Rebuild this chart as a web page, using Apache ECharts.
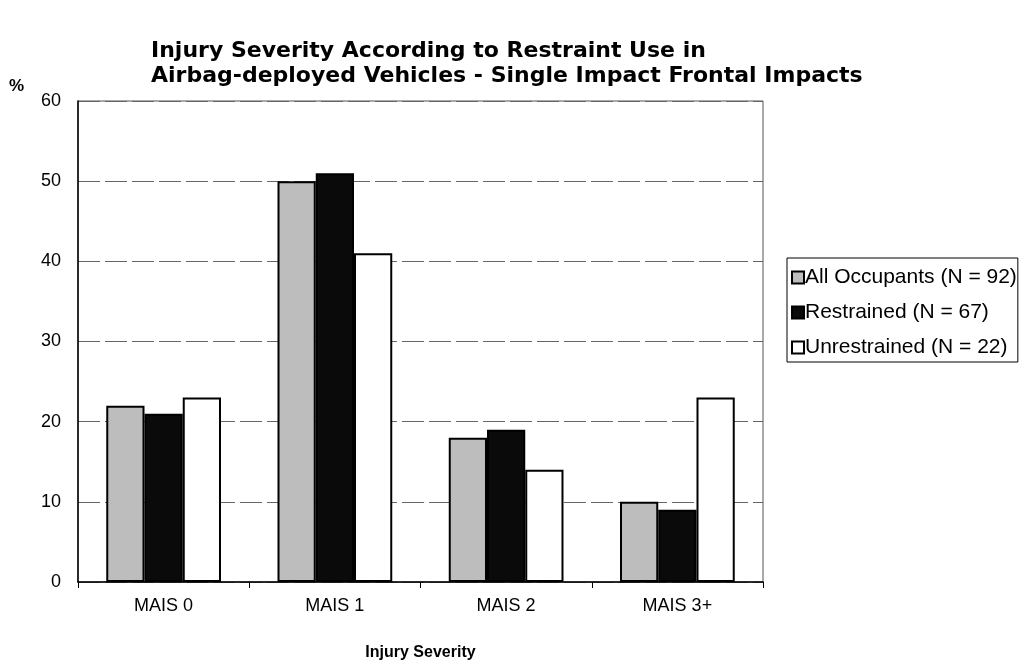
<!DOCTYPE html>
<html><head><meta charset="utf-8">
<script src="https://cdn.jsdelivr.net/npm/echarts@6/dist/echarts.min.js"></script>
<style>html,body{margin:0;padding:0;background:#fff}#c{width:1029px;height:666px}</style>
</head><body><div id="c"></div>
<script>
var categories = ['MAIS 0', 'MAIS 1', 'MAIS 2', 'MAIS 3+'];
var seriesNames = ['All Occupants (N = 92)', 'Restrained (N = 67)', 'Unrestrained (N = 22)'];
var allOccupants = [22, 50, 18, 10];
var restrained = [21, 51, 19, 9];
var unrestrained = [23, 41, 14, 23];
var yTicks = [0, 10, 20, 30, 40, 50, 60];

var font = 'Liberation Sans, Arial, sans-serif';
var wide = 'DejaVu Sans, sans-serif';
var chart = echarts.init(document.getElementById('c'));
function bar(name, data, color) {
  return {
    name: name, type: 'bar', data: data, barGap: '0%', barCategoryGap: '33%',
    itemStyle: { color: color, borderColor: '#000', borderWidth: 2 }
  };
}
chart.setOption({
  animation: false,
  backgroundColor: '#fff',
  title: {
    text: 'Injury Severity According to Restraint Use in\nAirbag-deployed Vehicles - Single Impact Frontal Impacts',
    left: 146, top: 34,
    textStyle: { fontFamily: wide, fontSize: 22, fontWeight: 'bold', color: '#000', lineHeight: 25 }
  },
  legend: {
    orient: 'vertical', left: 787, top: 258, width: 231,
    padding: [9, 1, 4, 4], itemGap: 14,
    itemWidth: 12, itemHeight: 12, borderColor: '#000', borderWidth: 1,
    textStyle: { fontFamily: font, fontSize: 21, color: '#000', padding: [0, 0, 0, -4] },
    data: seriesNames.map(function (n) { return { name: n, icon: 'rect' }; })
  },
  grid: { left: 78, right: 266, top: 101, bottom: 83, show: true, borderColor: '#555', borderWidth: 1 },
  xAxis: {
    type: 'category', data: categories,
    name: 'Injury Severity', nameLocation: 'middle', nameGap: 63,
    nameTextStyle: { fontFamily: font, fontSize: 16, fontWeight: 'bold', color: '#000' },
    axisLine: { lineStyle: { color: '#000', width: 1.5 } },
    axisTick: { show: true, length: 6, lineStyle: { color: '#000' } },
    axisLabel: { fontFamily: font, fontSize: 18, color: '#000', margin: 15 }
  },
  yAxis: {
    type: 'value', min: 0, max: 60, interval: 10,
    name: '%', nameLocation: 'end', nameGap: 6,
    nameTextStyle: { fontFamily: font, fontSize: 17, fontWeight: 'bold', color: '#000', align: 'right', padding: [0, 54, 0, 0] },
    axisLine: { show: true, lineStyle: { color: '#000', width: 1.5 } },
    axisTick: { show: false },
    axisLabel: { fontFamily: font, fontSize: 18, color: '#000', margin: 17,
      formatter: function (v) { return yTicks.indexOf(v) >= 0 ? String(v) : ''; } },
    splitLine: { show: true, lineStyle: { color: '#666', type: [22, 5], width: 1 } }
  },
  series: [
    bar(seriesNames[0], allOccupants, '#bdbdbd'),
    bar(seriesNames[1], restrained, '#0a0a0a'),
    bar(seriesNames[2], unrestrained, '#ffffff')
  ]
});
</script></body></html>
